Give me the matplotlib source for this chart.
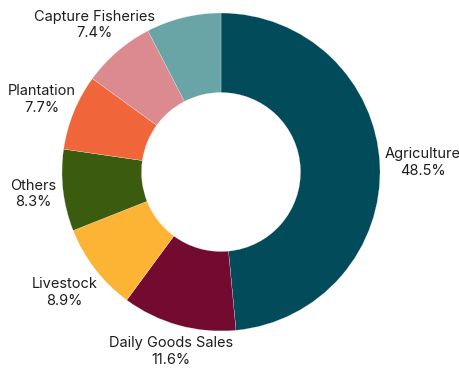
import numpy as np
import matplotlib.pyplot as plt

sectors = ["Agriculture", "Daily Goods Sales", "Livestock", "Others",
           "Plantation", "Capture Fisheries", ""]
shares = [48.5, 11.6, 8.9, 8.3, 7.7, 7.4, 7.6]
colors = ["#024b5a", "#730a2f", "#fdb333", "#3b5c0e",
          "#f0663a", "#db8b90", "#69a5a6"]

# distance of each label centre from the pie centre (in radii)
label_r = [1.27, 1.17, 1.245, 1.19, 1.215, 1.22]

plt.rcParams['font.family'] = ['Inter', 'DejaVu Sans']

fig = plt.figure(figsize=(4.6, 3.74), dpi=100)
ax = fig.add_axes([0, 0, 1, 1])

wedges, _ = ax.pie(shares, colors=colors, startangle=90, counterclock=False,
                   radius=1.0, wedgeprops=dict(width=0.5, edgecolor="white", linewidth=0.15))

start = 90.0
for name, val, r in zip(sectors, shares, label_r):
    mid = np.deg2rad(start - val * 3.6 / 2)
    start -= val * 3.6
    if not name:
        continue
    ax.text(r * np.cos(mid), r * np.sin(mid), f"{name}\n{val:.1f}%",
            ha="center", va="center", multialignment="center",
            fontsize=10.5, color="#1e1e1e", linespacing=1.25)

ax.set_xlim(-221 / 159, (460 - 221) / 159)
ax.set_ylim((172 - 374) / 159, 172 / 159)
ax.set_aspect("equal")
ax.axis("off")

fig.savefig("out.png", dpi=100)
